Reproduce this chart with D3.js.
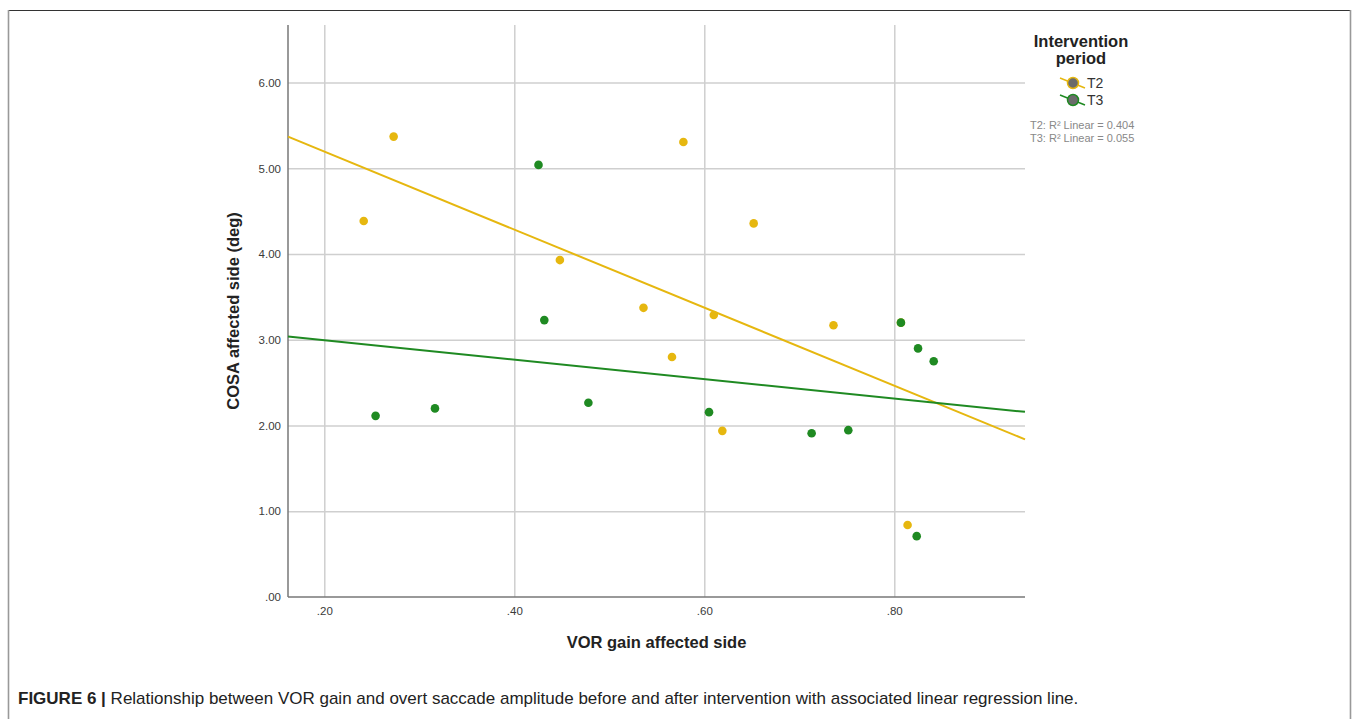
<!DOCTYPE html>
<html>
<head>
<meta charset="utf-8">
<script src="https://cdn.jsdelivr.net/npm/d3@7"></script>
<style>
  body { margin: 0; background: #fff; }
  #chart { width: 1358px; height: 719px; }
  text { font-family: "Liberation Sans", Arial, sans-serif; }
</style>
</head>
<body>
<div id="chart"></div>
<script>
// VOR gain vs COSA
let periods = ["T2", "T3"];
let periodColors = ["#e6b70f", "#1f8a22"];
let r2Labels = ["0.404", "0.055"];
let t2Gain = [0.2415, 0.273, 0.448, 0.536, 0.566, 0.578, 0.61, 0.619, 0.652, 0.736, 0.814, 0.807];
let t2Cosa = [4.385, 5.37, 3.93, 3.373, 2.8, 5.307, 3.29, 1.938, 4.358, 3.17, 0.84, 3.2];
let t3Gain = [0.254, 0.3165, 0.4255, 0.4316, 0.478, 0.605, 0.713, 0.7516, 0.807, 0.825, 0.8415, 0.8236];
let t3Cosa = [2.113, 2.2, 5.04, 3.23, 2.265, 2.156, 1.91, 1.946, 3.2, 2.9, 2.75, 0.71];
let xTicks = [0.2, 0.4, 0.6, 0.8];
let yTicks = [0, 1, 2, 3, 4, 5, 6];
let xRange = [0.1618, 0.9376];
let yRange = [0, 6.672];
let caption = "Relationship between VOR gain and overt saccade amplitude before and after intervention with associated linear regression line.";

let series = [
  { name: periods[0], color: periodColors[0], r2: r2Labels[0], pts: t2Gain.map((g, i) => ({ x: g, y: t2Cosa[i] })) },
  { name: periods[1], color: periodColors[1], r2: r2Labels[1], pts: t3Gain.map((g, i) => ({ x: g, y: t3Cosa[i] })) },
];

function linFit(pts) {
  let mx = d3.mean(pts, (d) => d.x);
  let my = d3.mean(pts, (d) => d.y);
  let sxy = d3.sum(pts, (d) => (d.x - mx) * (d.y - my));
  let sxx = d3.sum(pts, (d) => (d.x - mx) * (d.x - mx));
  let b = sxy / sxx;
  return { a: my - b * mx, b: b };
}

let svg = d3.select("#chart").append("svg").attr("width", 1358).attr("height", 719);

// figure frame
svg.append("line").attr("x1", 8).attr("x2", 1351).attr("y1", 10.5).attr("y2", 10.5)
  .attr("stroke", "#333").attr("stroke-width", 1.2);
svg.append("line").attr("x1", 8.5).attr("x2", 8.5).attr("y1", 10).attr("y2", 719)
  .attr("stroke", "#999").attr("stroke-width", 1.6);
svg.append("line").attr("x1", 1350.5).attr("x2", 1350.5).attr("y1", 10).attr("y2", 719)
  .attr("stroke", "#999").attr("stroke-width", 1.6);

let margin = { left: 288, right: 1025, top: 25, bottom: 597 };
let x = d3.scaleLinear().domain(xRange).range([margin.left, margin.right]);
let y = d3.scaleLinear().domain(yRange).range([margin.bottom, margin.top]);
let innerW = margin.right - margin.left;
let innerH = margin.bottom - margin.top;

// grid
let grid = svg.append("g");
grid.append("g").attr("transform", `translate(0,${margin.bottom})`)
  .call(d3.axisBottom(x).tickValues(xTicks).tickSize(-innerH).tickFormat(""));
grid.append("g").attr("transform", `translate(${margin.left},0)`)
  .call(d3.axisLeft(y).tickValues(yTicks.slice(1)).tickSize(-innerW).tickFormat(""));
grid.selectAll(".domain").remove();
grid.selectAll("line").attr("stroke", "#cfcfcf").attr("stroke-width", 1.5);

// axes
let axX = svg.append("g").attr("transform", `translate(0,${margin.bottom})`)
  .call(d3.axisBottom(x).tickValues(xTicks).tickSize(0).tickPadding(10)
    .tickFormat((d) => d3.format(".2f")(d).replace(/^0/, "")));
let axY = svg.append("g").attr("transform", `translate(${margin.left},0)`)
  .call(d3.axisLeft(y).tickValues(yTicks).tickSize(0).tickPadding(7)
    .tickFormat((d) => d3.format(".2f")(d).replace(/^0/, "")));
[axX, axY].forEach((ax) => {
  ax.select(".domain").attr("stroke", "#777").attr("stroke-width", 1.5);
  ax.selectAll("text").attr("font-size", 11.5).attr("fill", "#3a3a3a")
    .attr("font-family", "'Liberation Sans', Arial, sans-serif");
});
axY.select(".domain").attr("d", `M0,${margin.top}V${margin.bottom}`);
axX.select(".domain").attr("d", `M${margin.left},0H${margin.right}`);

svg.append("text").attr("x", (margin.left + margin.right) / 2).attr("y", 648).attr("text-anchor", "middle")
  .attr("font-size", 16.5).attr("font-weight", "bold").attr("fill", "#222").text("VOR gain affected side");
svg.append("text").attr("transform", `translate(239,${(margin.top + margin.bottom) / 2}) rotate(-90)`)
  .attr("text-anchor", "middle").attr("font-size", 16.5).attr("font-weight", "bold").attr("fill", "#222")
  .text("COSA affected side (deg)");

// regression lines
let plot = svg.append("g");
series.forEach((s) => {
  let f = linFit(s.pts);
  plot.append("line")
    .attr("x1", x(xRange[0])).attr("y1", y(f.a + f.b * xRange[0]))
    .attr("x2", x(xRange[1])).attr("y2", y(f.a + f.b * xRange[1]))
    .attr("stroke", s.color).attr("stroke-width", 2);
});

// points
series.forEach((s) => {
  plot.append("g").selectAll("circle")
    .data(s.pts)
    .join("circle")
    .attr("cx", (d) => x(d.x))
    .attr("cy", (d) => y(d.y))
    .attr("r", 4.3)
    .attr("fill", s.color);
});

// legend
let lg = svg.append("g");
lg.append("text").attr("x", 1081).attr("y", 47).attr("text-anchor", "middle")
  .attr("font-size", 16.5).attr("font-weight", "bold").attr("fill", "#222").text("Intervention");
lg.append("text").attr("x", 1081).attr("y", 64).attr("text-anchor", "middle")
  .attr("font-size", 16.5).attr("font-weight", "bold").attr("fill", "#222").text("period");
let item = lg.selectAll(".item").data(series).join("g")
  .attr("class", "item")
  .attr("transform", (d, i) => `translate(1073,${83 + i * 17})`);
item.append("line").attr("x1", -13).attr("y1", -5).attr("x2", 12).attr("y2", 5)
  .attr("stroke", (d) => d.color).attr("stroke-width", 1.5);
item.append("circle").attr("r", 5.5).attr("fill", "#6b6b6b")
  .attr("stroke", (d) => d.color).attr("stroke-width", 1.5);
item.append("text").attr("x", 14).attr("y", 5).attr("font-size", 14).attr("fill", "#333")
  .text((d) => d.name);
lg.selectAll(".r2").data(series).join("text")
  .attr("class", "r2")
  .attr("x", 1030).attr("y", (d, i) => 129 + i * 13)
  .attr("font-size", 11).attr("fill", "#888")
  .text((d) => `${d.name}: R² Linear = ${d.r2}`);

// caption
let cap = svg.append("text").attr("x", 18).attr("y", 704).attr("font-size", 17).attr("fill", "#222");
cap.append("tspan").attr("font-weight", "bold").text("FIGURE 6 | ");
cap.append("tspan").text(caption);
</script>
</body>
</html>
